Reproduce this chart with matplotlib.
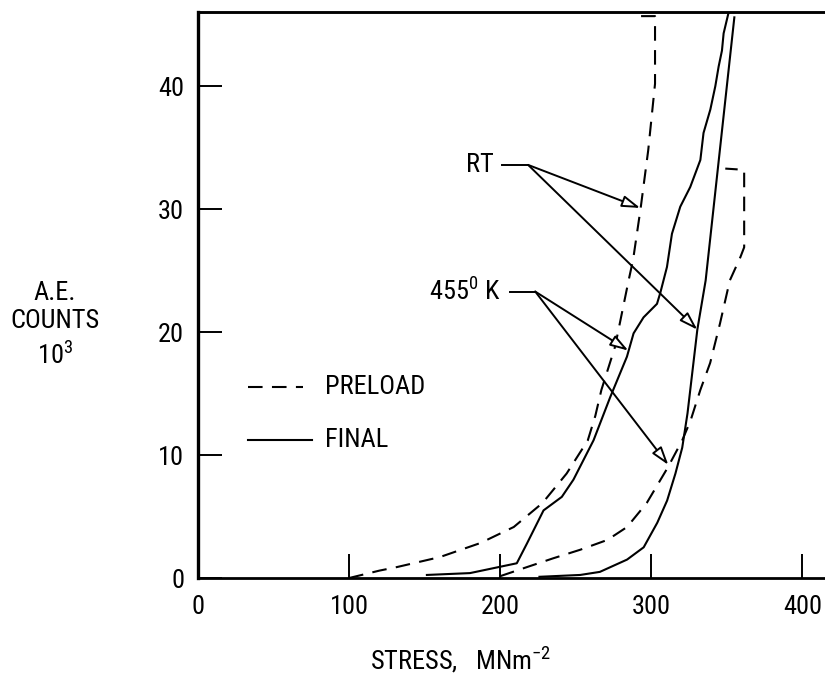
import matplotlib
matplotlib.use('Agg')
import matplotlib.pyplot as plt
from matplotlib import font_manager as fm

# pick the narrowest sans family that is installed
_fonts = fm.fontManager.ttflist
_names = {f.name for f in _fonts}
if 'Liberation Sans Narrow' in _names:
    FAMILY, STRETCH = 'Liberation Sans Narrow', 'normal'
elif 'Roboto Condensed' in _names:
    FAMILY, STRETCH = 'Roboto Condensed', 'normal'
elif any(f.name == 'DejaVu Sans' and 'condensed' in str(f.stretch) for f in _fonts):
    FAMILY, STRETCH = 'DejaVu Sans', 'condensed'
else:
    FAMILY, STRETCH = 'Liberation Sans', 'normal'

plt.rcParams['font.family'] = [FAMILY, 'DejaVu Sans']
plt.rcParams['font.stretch'] = STRETCH
plt.rcParams['mathtext.fontset'] = 'custom'
plt.rcParams['mathtext.rm'] = f'{FAMILY}:stretch={STRETCH}'

# data (stress MN/m^2, A.E. counts x 10^3)
rt_preload_x = [100, 120, 132, 160, 187, 209, 228, 244, 258, 263, 267, 276, 285, 288, 293, 298, 302.5, 302.5, 290.5]
rt_preload_y = [0, 0.6, 0.9, 1.7, 2.85, 4.15, 6.1, 8.5, 11.2, 13.2, 15.3, 18.8, 24.2, 25.9, 30.1, 34.8, 40.2, 45.7, 45.7]

rt_final_x = [226, 253, 266, 284, 295, 304, 310.5, 316, 320.5, 324, 330.5, 336, 355]
rt_final_y = [0.1, 0.25, 0.5, 1.5, 2.5, 4.5, 6.3, 8.5, 10.6, 13.4, 20.2, 24.2, 45.6]

k455_preload_x = [200, 218, 235, 253, 271, 284, 297, 311, 320.5, 326, 332.5, 339, 345.5, 352, 359, 361.5, 361.5, 349]
k455_preload_y = [0.15, 0.9, 1.6, 2.3, 3.1, 4.15, 6.1, 9.0, 11.2, 12.8, 15.3, 17.5, 20.7, 24.2, 26.1, 26.9, 33.2, 33.3]

k455_final_x = [151.5, 180, 211, 217.7, 228.7, 240.8, 248.5, 261.8, 272.8, 283.9, 288.3, 294.9, 303.8,
                306, 310.4, 313.7, 319.2, 325.8, 332.5, 334.6, 339.1, 342.4, 344.6, 346.8, 347.9, 351.2]
k455_final_y = [0.25, 0.4, 1.2, 2.8, 5.5, 6.6, 8.0, 11.2, 14.7, 18.0, 19.9, 21.2, 22.3,
                23.2, 25.3, 28.0, 30.2, 31.8, 34.0, 36.2, 38.1, 40.0, 41.6, 42.9, 44.3, 46.0]

x_ticks = [0, 100, 200, 300, 400]
y_ticks = [0, 10, 20, 30, 40]

# arrow targets on the curves
rt_targets = [(292.7, 30.1), (330.5, 20.2)]
k455_targets = [(284.8, 18.5), (311.3, 9.2)]

FS = 19
DASH = (7, 4.5)
YMAX = 46.0

fig = plt.figure(figsize=(8.25, 6.91), dpi=100)
ax = fig.add_axes([0.24, 0.1635, 0.76, 0.8185])

for xs, ys in [(rt_preload_x, rt_preload_y), (k455_preload_x, k455_preload_y)]:
    ax.plot(xs, ys, color='black', lw=1.5, dashes=DASH)
for xs, ys in [(rt_final_x, rt_final_y), (k455_final_x, k455_final_y)]:
    ax.plot(xs, ys, color='black', lw=1.5)

ax.set_xlim(0, 415)
ax.set_ylim(0, YMAX)
ax.set_xticks(x_ticks)
ax.set_yticks(y_ticks)
ax.tick_params(direction='in', length=17, width=1.4, labelsize=FS, color='black')
ax.tick_params(axis='x', pad=12)
ax.tick_params(axis='y', pad=10)

ax.spines['right'].set_visible(False)
ax.spines['left'].set_linewidth(2.4)
ax.spines['bottom'].set_linewidth(2.0)
ax.spines['top'].set_linewidth(1.8)
ax.axhline(YMAX, color='black', lw=1.8, clip_on=False)


def label_with_arrows(text, tx, ty, x0, x1, targets):
    ax.text(tx, ty, text, fontsize=FS, ha='right', va='center')
    ax.plot([x0, x1], [ty, ty], color='black', lw=1.4)
    for px, py in targets:
        ax.annotate('', xy=(px, py), xytext=(x1, ty),
                    arrowprops=dict(arrowstyle='-|>,head_length=1.1,head_width=0.35',
                                    fc='white', ec='black', lw=1.4,
                                    shrinkA=0, shrinkB=0))


label_with_arrows('RT', 196, 33.6, 201.3, 218.5, rt_targets)
label_with_arrows(r'455$^{\mathrm{0}}$ K', 200.5, 23.3, 206.6, 223.2, k455_targets)

# key
ax.plot([33, 69.5], [15.5, 15.5], color='black', lw=1.5, dashes=DASH)
ax.text(84, 15.5, 'PRELOAD', fontsize=FS, va='center')
ax.plot([33, 75.5], [11.2, 11.2], color='black', lw=1.5)
ax.text(84, 11.2, 'FINAL', fontsize=FS, va='center')

# axis titles
fig.text(461 / 825, 1 - 660 / 691, r'STRESS,   MNm$^{\mathrm{-2}}$', fontsize=FS, ha='center', va='center')
fig.text(55 / 825, 1 - 293 / 691, 'A.E.', fontsize=FS, ha='center', va='center')
fig.text(55 / 825, 1 - 321 / 691, 'COUNTS', fontsize=FS, ha='center', va='center')
fig.text(55 / 825, 1 - 355 / 691, r'10$^{\mathrm{3}}$', fontsize=FS, ha='center', va='center')

fig.savefig('out.png', dpi=100)
